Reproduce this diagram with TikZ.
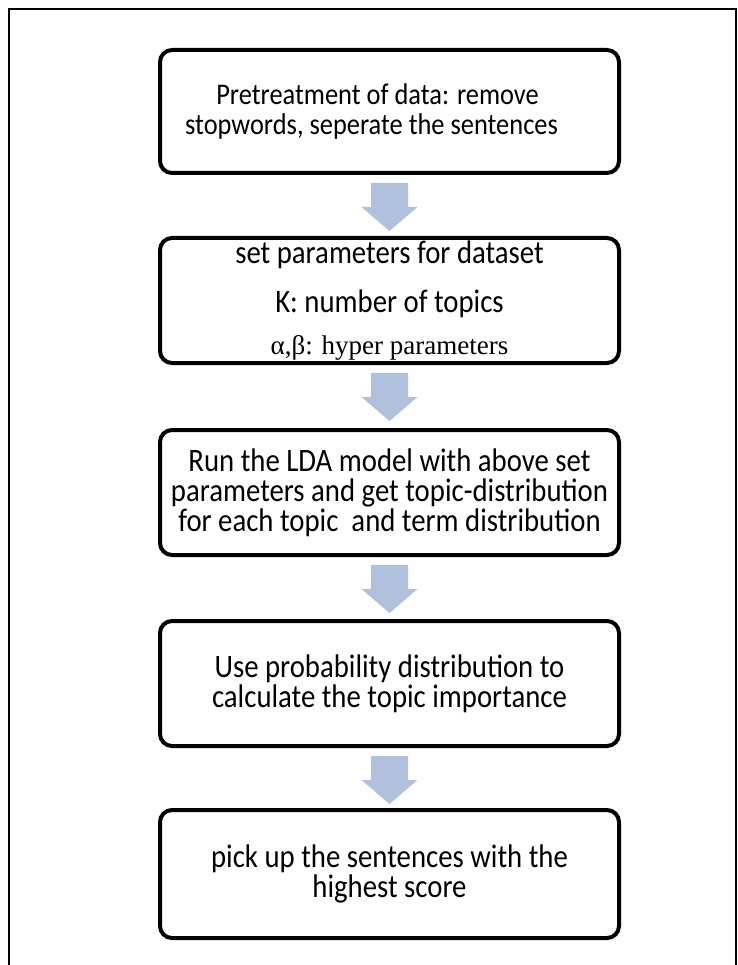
\documentclass[tikz,border=0pt]{standalone}
\usepackage{fontspec}
\setmainfont{Carlito}[FakeStretch=0.88]
\newfontfamily\serifgreek{Liberation Serif}
\usetikzlibrary{calc}
\definecolor{arrowblue}{RGB}{176,193,222}
\tikzset{
  stepbox/.style={draw=black, line width=4pt, rounded corners=12pt, minimum width=459pt,
    minimum height=125pt, outer sep=0pt, inner sep=0pt, align=center,
    font=\fontsize{32.7}{30}\selectfont},
  blockarrow/.style={fill=arrowblue, draw=none},
  frame/.style={draw=black, line width=2pt}
}
\begin{document}
\begin{tikzpicture}[x=1pt,y=-1pt]
\useasboundingbox (0,0) rectangle (737,965);
\draw[frame] (9,965) -- (9,9) -- (737,9);
\draw[frame] (736,9) -- (736,965);

\node[stepbox, minimum height=123pt, font=\fontsize{30}{30}\selectfont] (b1) at (389.5,111.5)
  {Pretreatment of data: remove\hspace*{24pt}\\stopwords, seperate the sentences\hspace*{36pt}};
\node[stepbox] (b2) at (389.5,300.5)
  {set parameters for dataset\\[19pt]K: number of topics\\[12pt]{\serifgreek\fontsize{27}{30}\selectfont α,β: hyper parameters}};
\node[stepbox] (b3) at (389.5,492.5)
  {Run the LDA model with above set\\parameters and get topic-distribution\\for each topic\ \ and term distribution};
\node[stepbox] (b4) at (389.5,683.5)
  {Use probability distribution to\\calculate the topic importance};
\node[stepbox, minimum height=128pt] (b5) at (389.5,874)
  {pick up the sentences with the\\highest score};

\foreach \a in {b1,b2,b3,b4}{
  \path[blockarrow] ($(\a.south)+(-18.5,10)$) -- ($(\a.south)+(18.5,10)$)
    -- ($(\a.south)+(18.5,34)$) -- ($(\a.south)+(28,34)$) -- ($(\a.south)+(0,58)$)
    -- ($(\a.south)+(-28,34)$) -- ($(\a.south)+(-18.5,34)$) -- cycle;
}
\end{tikzpicture}
\end{document}
